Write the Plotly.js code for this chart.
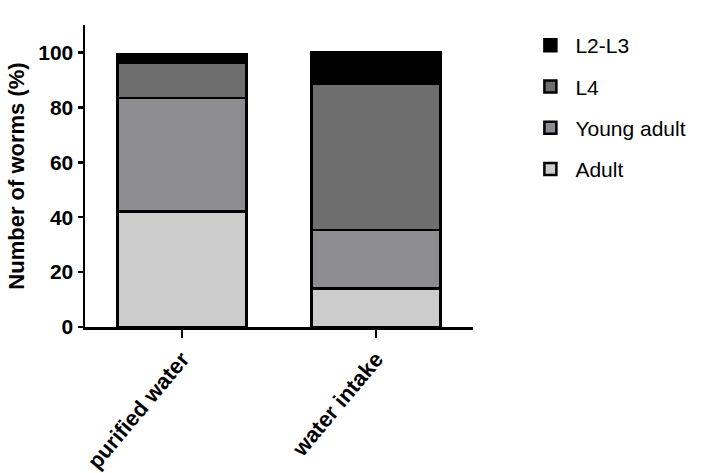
<!DOCTYPE html>
<html>
<head>
<meta charset="utf-8">
<script src="https://cdn.plot.ly/plotly-3.0.1.min.js"></script>
<style>
  body { margin: 0; background: #fff; }
  #chart { width: 703px; height: 473px; }
</style>
</head>
<body>
<div id="chart"></div>
<script>
// groups on the x axis
let groups = ['purified water', 'water intake'];

// percentage of worms per stage (stack order bottom -> top)
let adult = [42.0, 14.0];
let youngAdult = [41.5, 21.3];
let l4 = [12.7, 53.4];
let l2l3 = [3.1, 11.3];

let stageNames = ['Adult', 'Young adult', 'L4', 'L2-L3'];
let stageValues = [adult, youngAdult, l4, l2l3];
let stageColors = ['#cccccc', '#8d8d91', '#6e6e6e', '#000000'];

let data = [];
for (let i = 0; i < stageNames.length; i++) {
    data.push({
        type: 'bar',
        name: stageNames[i],
        x: groups,
        y: stageValues[i],
        legendgroup: stageNames[i],
        legendrank: 1000 - i * 10,   // top of the stack first in the legend
        marker: {
            color: stageColors[i],
            line: {color: '#000000', width: 2.5}
        },
        hoverinfo: 'name+y'
    });
}

let layout = {
    width: 703,
    height: 473,
    barmode: 'stack',
    bargap: 0.335,
    paper_bgcolor: '#ffffff',
    plot_bgcolor: '#ffffff',
    margin: {l: 85, r: 228, t: 25, b: 146},
    font: {family: 'Liberation Sans, Arial, sans-serif', color: '#000000'},
    xaxis: {
        range: [-0.5, 1.5],
        showline: true,
        linecolor: '#000000',
        linewidth: 2.5,
        ticks: 'outside',
        ticklen: 8,
        tickwidth: 2.5,
        tickcolor: '#000000',
        tickangle: -50,
        tickfont: {size: 22, family: 'Liberation Sans, Arial, sans-serif', weight: 'bold'},
        showgrid: false,
        zeroline: false,
        fixedrange: true
    },
    yaxis: {
        range: [0, 110],
        tickvals: [0, 20, 40, 60, 80, 100],
        showline: true,
        linecolor: '#000000',
        linewidth: 2.5,
        ticks: 'outside',
        ticklen: 5,
        tickwidth: 2.5,
        tickcolor: '#000000',
        tickfont: {size: 21, family: 'Liberation Sans, Arial, sans-serif', weight: 'bold'},
        showgrid: false,
        zeroline: false,
        title: {
            text: 'Number of worms (%)',
            font: {size: 22, family: 'Liberation Sans, Arial, sans-serif', weight: 'bold'},
            standoff: 8
        },
        fixedrange: true
    },
    legend: {
        x: 1.135,
        y: 1.0,
        xanchor: 'left',
        yanchor: 'top',
        traceorder: 'grouped',
        tracegroupgap: 11,
        font: {size: 21, family: 'Liberation Sans, Arial, sans-serif', color: '#000000'},
        itemwidth: 40
    },
    showlegend: true
};

Plotly.newPlot('chart', data, layout, {displayModeBar: false, staticPlot: true});
</script>
</body>
</html>
